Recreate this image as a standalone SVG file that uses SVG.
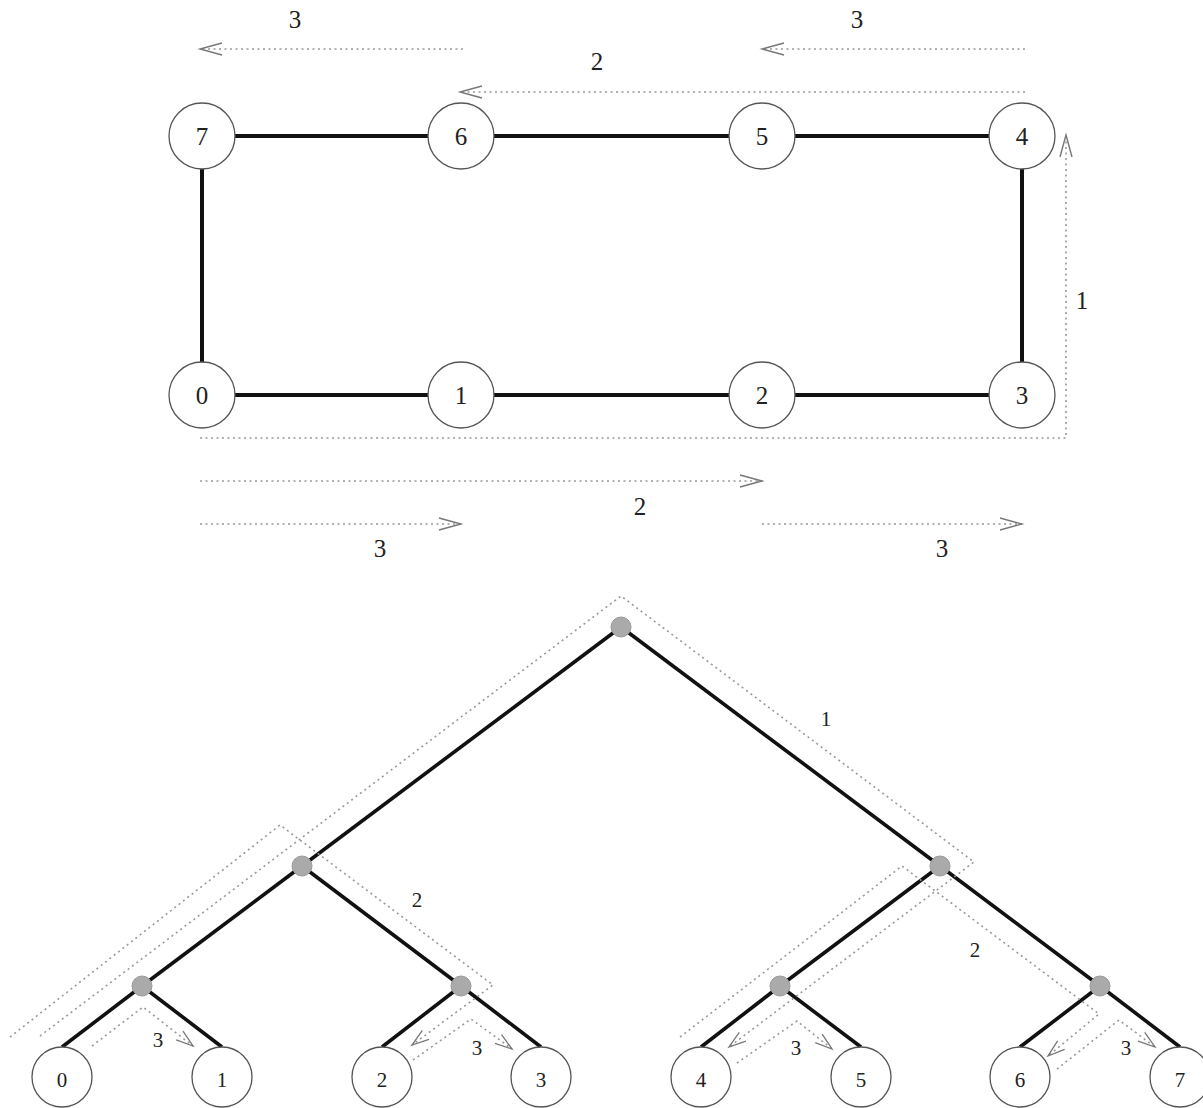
<svg xmlns="http://www.w3.org/2000/svg" width="1203" height="1108" viewBox="0 0 1203 1108">
  <style>
    .edge { stroke: #111; stroke-width: 4; stroke-linecap: butt; fill: none; }
    .tedge { stroke: #111; stroke-width: 3.6; stroke-linecap: butt; fill: none; }
    .node { fill: #fff; stroke: #555; stroke-width: 1.3; }
    .inner { fill: #aaa; stroke: #999; stroke-width: 1; }
    .flow { stroke: #999; stroke-width: 1.6; stroke-dasharray: 2 3.5; fill: none; }
    .lbl { font-family: "Liberation Serif", "Times New Roman", serif; fill: #222; text-anchor: middle; }
    .big { font-size: 25px; }
    .small { font-size: 21px; }
  </style>
  <defs>
    <marker id="ah" markerUnits="userSpaceOnUse" markerWidth="30" markerHeight="20" viewBox="-24 -10 30 20" refX="0" refY="0" orient="auto" overflow="visible">
      <path d="M -22,-6 L 0,0 L -22,6" fill="none" stroke="#777" stroke-width="1.4"/>
    </marker>
    <marker id="ahs" markerUnits="userSpaceOnUse" markerWidth="24" markerHeight="16" viewBox="-20 -8 24 16" refX="0" refY="0" orient="auto" overflow="visible">
      <path d="M -17,-5.5 L 0,0 L -17,5.5" fill="none" stroke="#777" stroke-width="1.3"/>
    </marker>
  </defs>
  <rect width="1203" height="1108" fill="#fff"/>

  <g id="connectors">
    <!-- ring edges -->
    <line class="edge" x1="202" y1="136" x2="1022" y2="136"/>
    <line class="edge" x1="202" y1="395" x2="1022" y2="395"/>
    <line class="edge" x1="202" y1="136" x2="202" y2="395"/>
    <line class="edge" x1="1022" y1="136" x2="1022" y2="395"/>

    <!-- ring flows -->
    <path class="flow" d="M 463,49 L 200,49" marker-end="url(#ah)"/>
    <path class="flow" d="M 1025,49 L 762,49" marker-end="url(#ah)"/>
    <path class="flow" d="M 1025,92 L 460,92" marker-end="url(#ah)"/>
    <path class="flow" d="M 200,438 L 1066,438 L 1066,135" marker-end="url(#ah)"/>
    <path class="flow" d="M 200,481 L 762,481" marker-end="url(#ah)"/>
    <path class="flow" d="M 200,524 L 461,524" marker-end="url(#ah)"/>
    <path class="flow" d="M 762,524 L 1022,524" marker-end="url(#ah)"/>

    <!-- tree edges -->
    <line class="tedge" x1="621" y1="627" x2="302" y2="866"/>
    <line class="tedge" x1="621" y1="627" x2="940" y2="866"/>
    <line class="tedge" x1="302" y1="866" x2="142" y2="986"/>
    <line class="tedge" x1="302" y1="866" x2="461" y2="986"/>
    <line class="tedge" x1="940" y1="866" x2="780" y2="986"/>
    <line class="tedge" x1="940" y1="866" x2="1100" y2="986"/>
    <line class="tedge" x1="142" y1="986" x2="62" y2="1047"/>
    <line class="tedge" x1="142" y1="986" x2="222" y2="1047"/>
    <line class="tedge" x1="461" y1="986" x2="382" y2="1047"/>
    <line class="tedge" x1="461" y1="986" x2="541" y2="1047"/>
    <line class="tedge" x1="780" y1="986" x2="701" y2="1047"/>
    <line class="tedge" x1="780" y1="986" x2="861" y2="1047"/>
    <line class="tedge" x1="1100" y1="986" x2="1020" y2="1047"/>
    <line class="tedge" x1="1100" y1="986" x2="1180" y2="1047"/>

    <!-- tree flows -->
    <path class="flow" d="M 40,1036 L 621,596 L 974,862 L 729,1047" marker-end="url(#ahs)"/>
    <path class="flow" d="M 10,1037 L 280,825 L 493,985 L 412,1045" marker-end="url(#ahs)"/>
    <path class="flow" d="M 680,1037 L 902,866 L 1099,1014 L 1048,1056" marker-end="url(#ahs)"/>
    <path class="flow" d="M 92,1046 L 143,1007 L 193,1046" marker-end="url(#ahs)"/>
    <path class="flow" d="M 413,1060 L 471,1019 L 512,1049" marker-end="url(#ahs)"/>
    <path class="flow" d="M 737,1063 L 797,1021 L 832,1049" marker-end="url(#ahs)"/>
    <path class="flow" d="M 1057,1069 L 1119,1020 L 1155,1047" marker-end="url(#ahs)"/>
  </g>

  <g id="flow-labels">
    <text class="lbl big" x="295" y="28">3</text>
    <text class="lbl big" x="857" y="28">3</text>
    <text class="lbl big" x="597" y="70">2</text>
    <text class="lbl big" x="1082" y="309">1</text>
    <text class="lbl big" x="640" y="515">2</text>
    <text class="lbl big" x="380" y="557">3</text>
    <text class="lbl big" x="942" y="557">3</text>
    <text class="lbl small" x="826" y="726">1</text>
    <text class="lbl small" x="417" y="907">2</text>
    <text class="lbl small" x="975" y="957">2</text>
    <text class="lbl small" x="158" y="1047">3</text>
    <text class="lbl small" x="477" y="1055">3</text>
    <text class="lbl small" x="796" y="1055">3</text>
    <text class="lbl small" x="1126" y="1055">3</text>
  </g>

  <!-- ring nodes -->
  <g id="r7"><circle class="node" cx="202" cy="136" r="33"/><text class="lbl big" x="202" y="145">7</text></g>
  <g id="r6"><circle class="node" cx="461" cy="136" r="33"/><text class="lbl big" x="461" y="145">6</text></g>
  <g id="r5"><circle class="node" cx="762" cy="136" r="33"/><text class="lbl big" x="762" y="145">5</text></g>
  <g id="r4"><circle class="node" cx="1022" cy="136" r="33"/><text class="lbl big" x="1022" y="145">4</text></g>
  <g id="r0"><circle class="node" cx="202" cy="395" r="33"/><text class="lbl big" x="202" y="404">0</text></g>
  <g id="r1"><circle class="node" cx="461" cy="395" r="33"/><text class="lbl big" x="461" y="404">1</text></g>
  <g id="r2"><circle class="node" cx="762" cy="395" r="33"/><text class="lbl big" x="762" y="404">2</text></g>
  <g id="r3"><circle class="node" cx="1022" cy="395" r="33"/><text class="lbl big" x="1022" y="404">3</text></g>

  <!-- tree inner nodes -->
  <g id="t-root"><circle class="inner" cx="621" cy="627" r="10"/></g>
  <g id="t-l"><circle class="inner" cx="302" cy="866" r="10"/></g>
  <g id="t-r"><circle class="inner" cx="940" cy="866" r="10"/></g>
  <g id="t-ll"><circle class="inner" cx="142" cy="986" r="10"/></g>
  <g id="t-lr"><circle class="inner" cx="461" cy="986" r="10"/></g>
  <g id="t-rl"><circle class="inner" cx="780" cy="986" r="10"/></g>
  <g id="t-rr"><circle class="inner" cx="1100" cy="986" r="10"/></g>

  <!-- tree leaves -->
  <g id="leaf0"><circle class="node" cx="62" cy="1077" r="30"/><text class="lbl small" x="62" y="1087">0</text></g>
  <g id="leaf1"><circle class="node" cx="222" cy="1077" r="30"/><text class="lbl small" x="222" y="1087">1</text></g>
  <g id="leaf2"><circle class="node" cx="382" cy="1077" r="30"/><text class="lbl small" x="382" y="1087">2</text></g>
  <g id="leaf3"><circle class="node" cx="541" cy="1077" r="30"/><text class="lbl small" x="541" y="1087">3</text></g>
  <g id="leaf4"><circle class="node" cx="701" cy="1077" r="30"/><text class="lbl small" x="701" y="1087">4</text></g>
  <g id="leaf5"><circle class="node" cx="861" cy="1077" r="30"/><text class="lbl small" x="861" y="1087">5</text></g>
  <g id="leaf6"><circle class="node" cx="1020" cy="1077" r="30"/><text class="lbl small" x="1020" y="1087">6</text></g>
  <g id="leaf7"><circle class="node" cx="1180" cy="1077" r="30"/><text class="lbl small" x="1180" y="1087">7</text></g>
</svg>
